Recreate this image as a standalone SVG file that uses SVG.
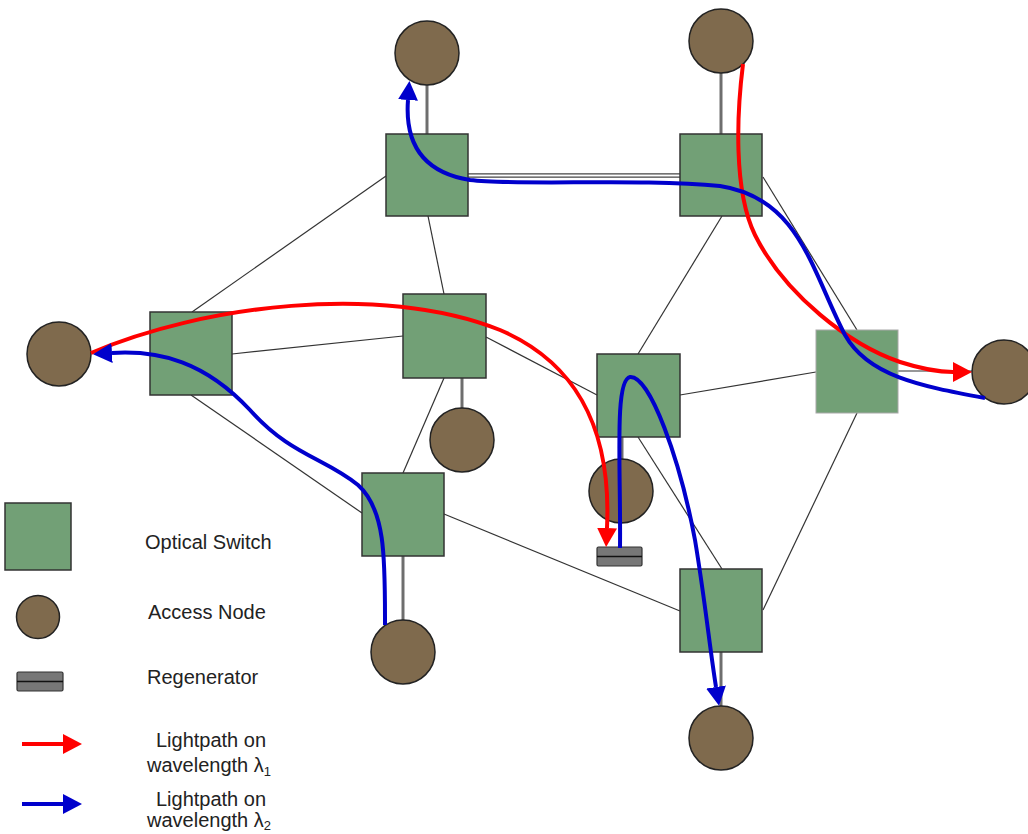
<svg xmlns="http://www.w3.org/2000/svg" width="1028" height="834" viewBox="0 0 1028 834">
  <style>
    .sw { fill: #72a076; stroke: #333; stroke-width: 1.5; }
    .sw-soft { fill: #72a076; stroke: #a8a8a8; stroke-width: 1; }
    .an { fill: #7f6a4d; stroke: #222; stroke-width: 1.5; }
    .trunk { stroke: #333; stroke-width: 1.2; fill: none; }
    .access { stroke: #6e6e6e; stroke-width: 3; fill: none; }
    .regen { fill: #777; stroke: #333; stroke-width: 1.2; }
    .regen-line { stroke: #111; stroke-width: 1.5; }
    .lp1 { stroke: #ff0000; stroke-width: 4; fill: none; }
    .lp2 { stroke: #0000cc; stroke-width: 4; fill: none; }
    .label { font-family: "Liberation Sans", Arial, sans-serif; font-size: 20px; fill: #222; }
  </style>
  <defs>
    <marker id="arrow-red" markerUnits="userSpaceOnUse" markerWidth="20" markerHeight="22" refX="0" refY="10" orient="auto">
      <path d="M0,0 L19,10 L0,20 z" fill="#ff0000"/>
    </marker>
    <marker id="arrow-blue" markerUnits="userSpaceOnUse" markerWidth="20" markerHeight="22" refX="0" refY="10" orient="auto">
      <path d="M0,0 L19,10 L0,20 z" fill="#0000cc"/>
    </marker>
  </defs>

  <rect width="1028" height="834" fill="#ffffff"/>

  <!-- fibre links between switches and access nodes -->
  <g id="connectors">
    <!-- double fibre between the two upper switches -->
    <line x1="468" y1="175.5" x2="680" y2="175.5" stroke="#444" stroke-width="4.6"/>
    <line x1="468" y1="175.5" x2="680" y2="175.5" stroke="#fff" stroke-width="2"/>
    <line class="trunk" x1="386" y1="176" x2="192" y2="312"/>
    <line class="trunk" x1="428" y1="216" x2="444" y2="294"/>
    <line class="trunk" x1="722" y1="216" x2="638" y2="354"/>
    <line class="trunk" x1="763" y1="177" x2="857" y2="330"/>
    <line class="trunk" x1="232" y1="354" x2="403" y2="336"/>
    <line class="trunk" x1="191" y1="395" x2="362" y2="513"/>
    <line class="trunk" x1="444" y1="378" x2="403" y2="473"/>
    <line class="trunk" x1="486" y1="337" x2="597" y2="395"/>
    <line class="trunk" x1="680" y1="395" x2="816" y2="372"/>
    <line class="trunk" x1="638" y1="437" x2="722" y2="569"/>
    <line class="trunk" x1="857" y1="413" x2="763" y2="610"/>
    <line class="trunk" x1="444" y1="514" x2="680" y2="611"/>
    <line class="trunk" x1="898" y1="371" x2="972" y2="371"/>
    <!-- access fibres -->
    <line class="access" x1="427" y1="85" x2="427" y2="134"/>
    <line class="access" x1="721" y1="73" x2="721" y2="134"/>
    <line class="access" x1="462" y1="378" x2="462" y2="408"/>
    <line class="access" x1="622" y1="437" x2="622" y2="459"/>
    <line class="access" x1="403" y1="556" x2="403" y2="620"/>
    <line class="access" x1="721" y1="652" x2="721" y2="706"/>
  </g>

  <!-- optical switches -->
  <g id="sw-top-left"><rect class="sw" x="386" y="134" width="82" height="82"/></g>
  <g id="sw-top-right"><rect class="sw" x="680" y="134" width="82" height="82"/></g>
  <g id="sw-left"><rect class="sw" x="150" y="312" width="82" height="83"/></g>
  <g id="sw-mid"><rect class="sw" x="403" y="294" width="83" height="84"/></g>
  <g id="sw-center"><rect class="sw" x="597" y="354" width="83" height="83"/></g>
  <g id="sw-right"><rect class="sw-soft" x="816" y="330" width="82" height="83"/></g>
  <g id="sw-bottom-left"><rect class="sw" x="362" y="473" width="82" height="83"/></g>
  <g id="sw-bottom-right"><rect class="sw" x="680" y="569" width="82" height="83"/></g>

  <!-- access nodes -->
  <g id="an-top-left"><circle class="an" cx="427" cy="53" r="32"/></g>
  <g id="an-top-right"><circle class="an" cx="721" cy="41" r="32"/></g>
  <g id="an-left"><circle class="an" cx="59" cy="354" r="32"/></g>
  <g id="an-right"><circle class="an" cx="1004" cy="372" r="32"/></g>
  <g id="an-mid"><circle class="an" cx="462" cy="440" r="32"/></g>
  <g id="an-center"><circle class="an" cx="621" cy="491" r="32"/></g>
  <g id="an-bottom-left"><circle class="an" cx="403" cy="652" r="32"/></g>
  <g id="an-bottom-right"><circle class="an" cx="721" cy="738" r="32"/></g>

  <!-- regenerator -->
  <g id="regenerator">
    <rect class="regen" x="597" y="547" width="45" height="19" rx="1.5"/>
    <line class="regen-line" x1="597" y1="556.5" x2="642" y2="556.5"/>
  </g>

  <!-- lightpaths -->
  <g id="lightpaths">
    <path class="lp1" d="M743,64 C737,112 733,190 755,235 C785,295 850,345 900,362 C922,369 938,372 953,372" marker-end="url(#arrow-red)"/>
    <path class="lp1" d="M91,353 C200,306 380,282 500,330 C570,360 612,420 607,528" marker-end="url(#arrow-red)"/>
    <path class="lp2" d="M985,398 C920,386 868,376 845,335 C812,272 800,198 720,186 C640,178 520,186 470,180 C420,172 405,140 408,100" marker-end="url(#arrow-blue)"/>
    <path class="lp2" d="M385,625 C385,560 386,510 358,485 C325,458 290,455 250,410 C205,362 160,350 112,353" marker-end="url(#arrow-blue)"/>
    <path class="lp2" d="M620,548 C621,470 614,380 630,377 C650,375 680,460 695,540 C705,600 710,650 716,687" marker-end="url(#arrow-blue)"/>
  </g>

  <!-- legend -->
  <g id="legend">
    <rect class="sw" x="5" y="503" width="66" height="67"/>
    <circle class="an" cx="38" cy="617" r="21.5"/>
    <rect class="regen" x="17" y="672" width="46" height="19" rx="1.5"/>
    <line class="regen-line" x1="17" y1="681.5" x2="63" y2="681.5"/>
    <line x1="22" y1="744" x2="63" y2="744" stroke="#ff0000" stroke-width="4" marker-end="url(#arrow-red)"/>
    <line x1="22" y1="804" x2="63" y2="804" stroke="#0000cc" stroke-width="4" marker-end="url(#arrow-blue)"/>
    <text class="label" x="145" y="549">Optical Switch</text>
    <text class="label" x="148" y="619">Access Node</text>
    <text class="label" x="147" y="684">Regenerator</text>
    <text class="label" x="211" y="747" text-anchor="middle">Lightpath on</text>
    <text class="label" x="147" y="772">wavelength λ<tspan font-size="13" dy="4">1</tspan></text>
    <text class="label" x="211" y="806" text-anchor="middle">Lightpath on</text>
    <text class="label" x="147" y="827">wavelength λ<tspan font-size="13" dy="3">2</tspan></text>
  </g>
</svg>
